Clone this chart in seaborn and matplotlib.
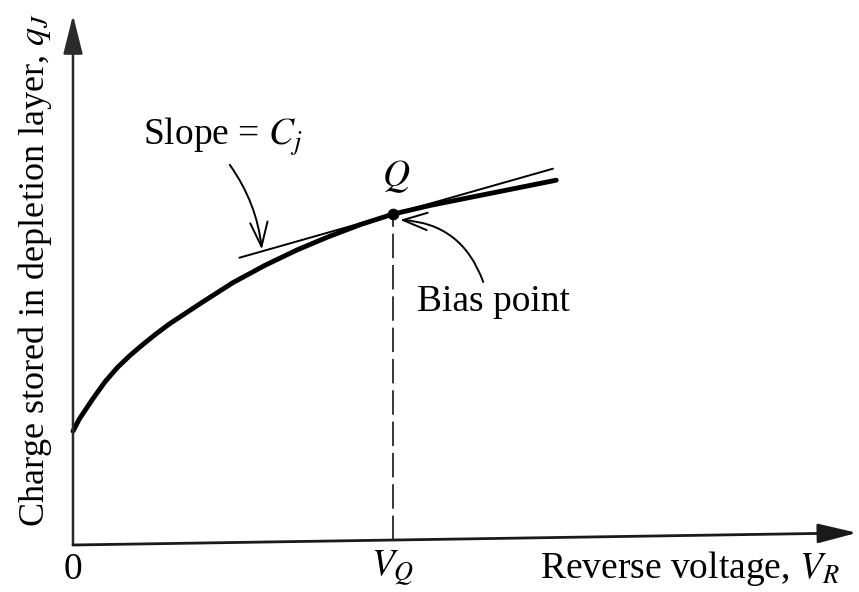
import numpy as np
import pandas as pd
import seaborn as sns
import matplotlib.pyplot as plt
from matplotlib.patches import ArrowStyle

# Junction charge versus reverse bias (arbitrary units)
reverse_voltage = [0.0, 0.1, 0.3, 0.5, 0.7, 0.9, 1.1, 1.3, 1.5, 2.0, 2.5, 3.0, 3.5,
                   4.0, 4.5, 5.0, 5.6, 6.2, 6.9, 7.55]
charge = [1.78, 1.97, 2.27, 2.55, 2.78, 2.97, 3.14, 3.30, 3.45, 3.78, 4.10, 4.37, 4.61,
          4.82, 5.01, 5.17, 5.31, 5.43, 5.57, 5.70]

# Bias point Q and the tangent whose slope is the junction capacitance
bias_voltage = 5.0
bias_charge = 5.17
cj_slope = 0.284
tangent_voltage = [2.6, 7.5]

# Axis extents
v_axis_end = 12.25
q_axis_end = 8.28
v_axis_rise = 0.19

sns.set_theme(style="white")
plt.rcParams["font.family"] = ["Liberation Serif", "DejaVu Serif"]
plt.rcParams["mathtext.fontset"] = "stix"

fig = plt.figure(figsize=(8.59, 5.92), dpi=100)
ax = fig.add_axes([0, 0, 1, 1])
ax.set_xlim(-73 / 64, (859 - 73) / 64)
ax.set_ylim(-(592 - 545) / 64, 545 / 64)
ax.axis("off")

ink = "black"
fs = 27

# characteristic curve
curve = pd.DataFrame({"V": reverse_voltage, "q": charge})
sns.lineplot(data=curve, x="V", y="q", sort=False, estimator=None,
             color=ink, lw=3.5, solid_capstyle="round", solid_joinstyle="round", ax=ax)

# tangent at Q
tangent_charge = [bias_charge + cj_slope * (v - bias_voltage) for v in tangent_voltage]
sns.lineplot(x=tangent_voltage, y=tangent_charge, sort=False, estimator=None,
             color=ink, lw=1.4, ax=ax)

# bias point marker
sns.scatterplot(x=[bias_voltage], y=[bias_charge], color=ink, s=60,
                edgecolor=ink, zorder=5, ax=ax)

# projection of Q onto the voltage axis
v_axis_y_at_bias = v_axis_rise * bias_voltage / v_axis_end
ax.plot([bias_voltage, bias_voltage], [v_axis_y_at_bias, bias_charge],
        color=ink, lw=1.1, dashes=(16, 4.5))

# axes with arrowheads
axis_head = ArrowStyle("-|>", head_length=1.2, head_width=0.3)
ax.annotate("", xy=(0, q_axis_end), xytext=(0, 0),
            arrowprops=dict(arrowstyle=axis_head, color="#2a2a2a", lw=1.8,
                            shrinkA=0, shrinkB=0, mutation_scale=20))
ax.annotate("", xy=(v_axis_end, v_axis_rise), xytext=(0, 0),
            arrowprops=dict(arrowstyle=axis_head, color="#1a1a1a", lw=2.0,
                            shrinkA=0, shrinkB=0, mutation_scale=20))

# pointer arrows
pointer = ArrowStyle("->", head_length=0.7, head_width=0.25)
slope_tip_v = 2.95
ax.annotate("", xy=(slope_tip_v, bias_charge + cj_slope * (slope_tip_v - bias_voltage) + 0.03),
            xytext=(2.45, 5.94),
            arrowprops=dict(arrowstyle=pointer, color=ink, lw=1.4, shrinkA=0, shrinkB=0,
                            mutation_scale=25, connectionstyle="arc3,rad=-0.13"))
ax.annotate("", xy=(5.11, 5.08), xytext=(6.41, 4.11),
            arrowprops=dict(arrowstyle=pointer, color=ink, lw=1.4, shrinkA=0, shrinkB=0,
                            mutation_scale=25, connectionstyle="arc3,rad=0.33"))

# labels
ax.text(1.09, 6.25, "Slope = $C_j$", fontsize=fs, ha="left", va="baseline", color=ink)
ax.text(5.05, 5.75, "$Q$", fontsize=fs, ha="center", va="center", color=ink)
ax.text(5.375, 3.656, "Bias point", fontsize=fs, ha="left", va="baseline", color=ink)
ax.text(0.0, -0.53, "0", fontsize=fs, ha="center", va="baseline", color=ink)
ax.text(bias_voltage, -0.47, "$V_Q$", fontsize=fs, ha="center", va="baseline", color=ink)
ax.text(7.30, -0.51, "Reverse voltage, $V_R$", fontsize=fs, ha="left", va="baseline", color=ink)
ax.text(-0.60, 4.30, "Charge stored in depletion layer, $q_J$", fontsize=26,
        rotation=90, ha="center", va="center", color=ink)

fig.savefig("out.png", dpi=100)
